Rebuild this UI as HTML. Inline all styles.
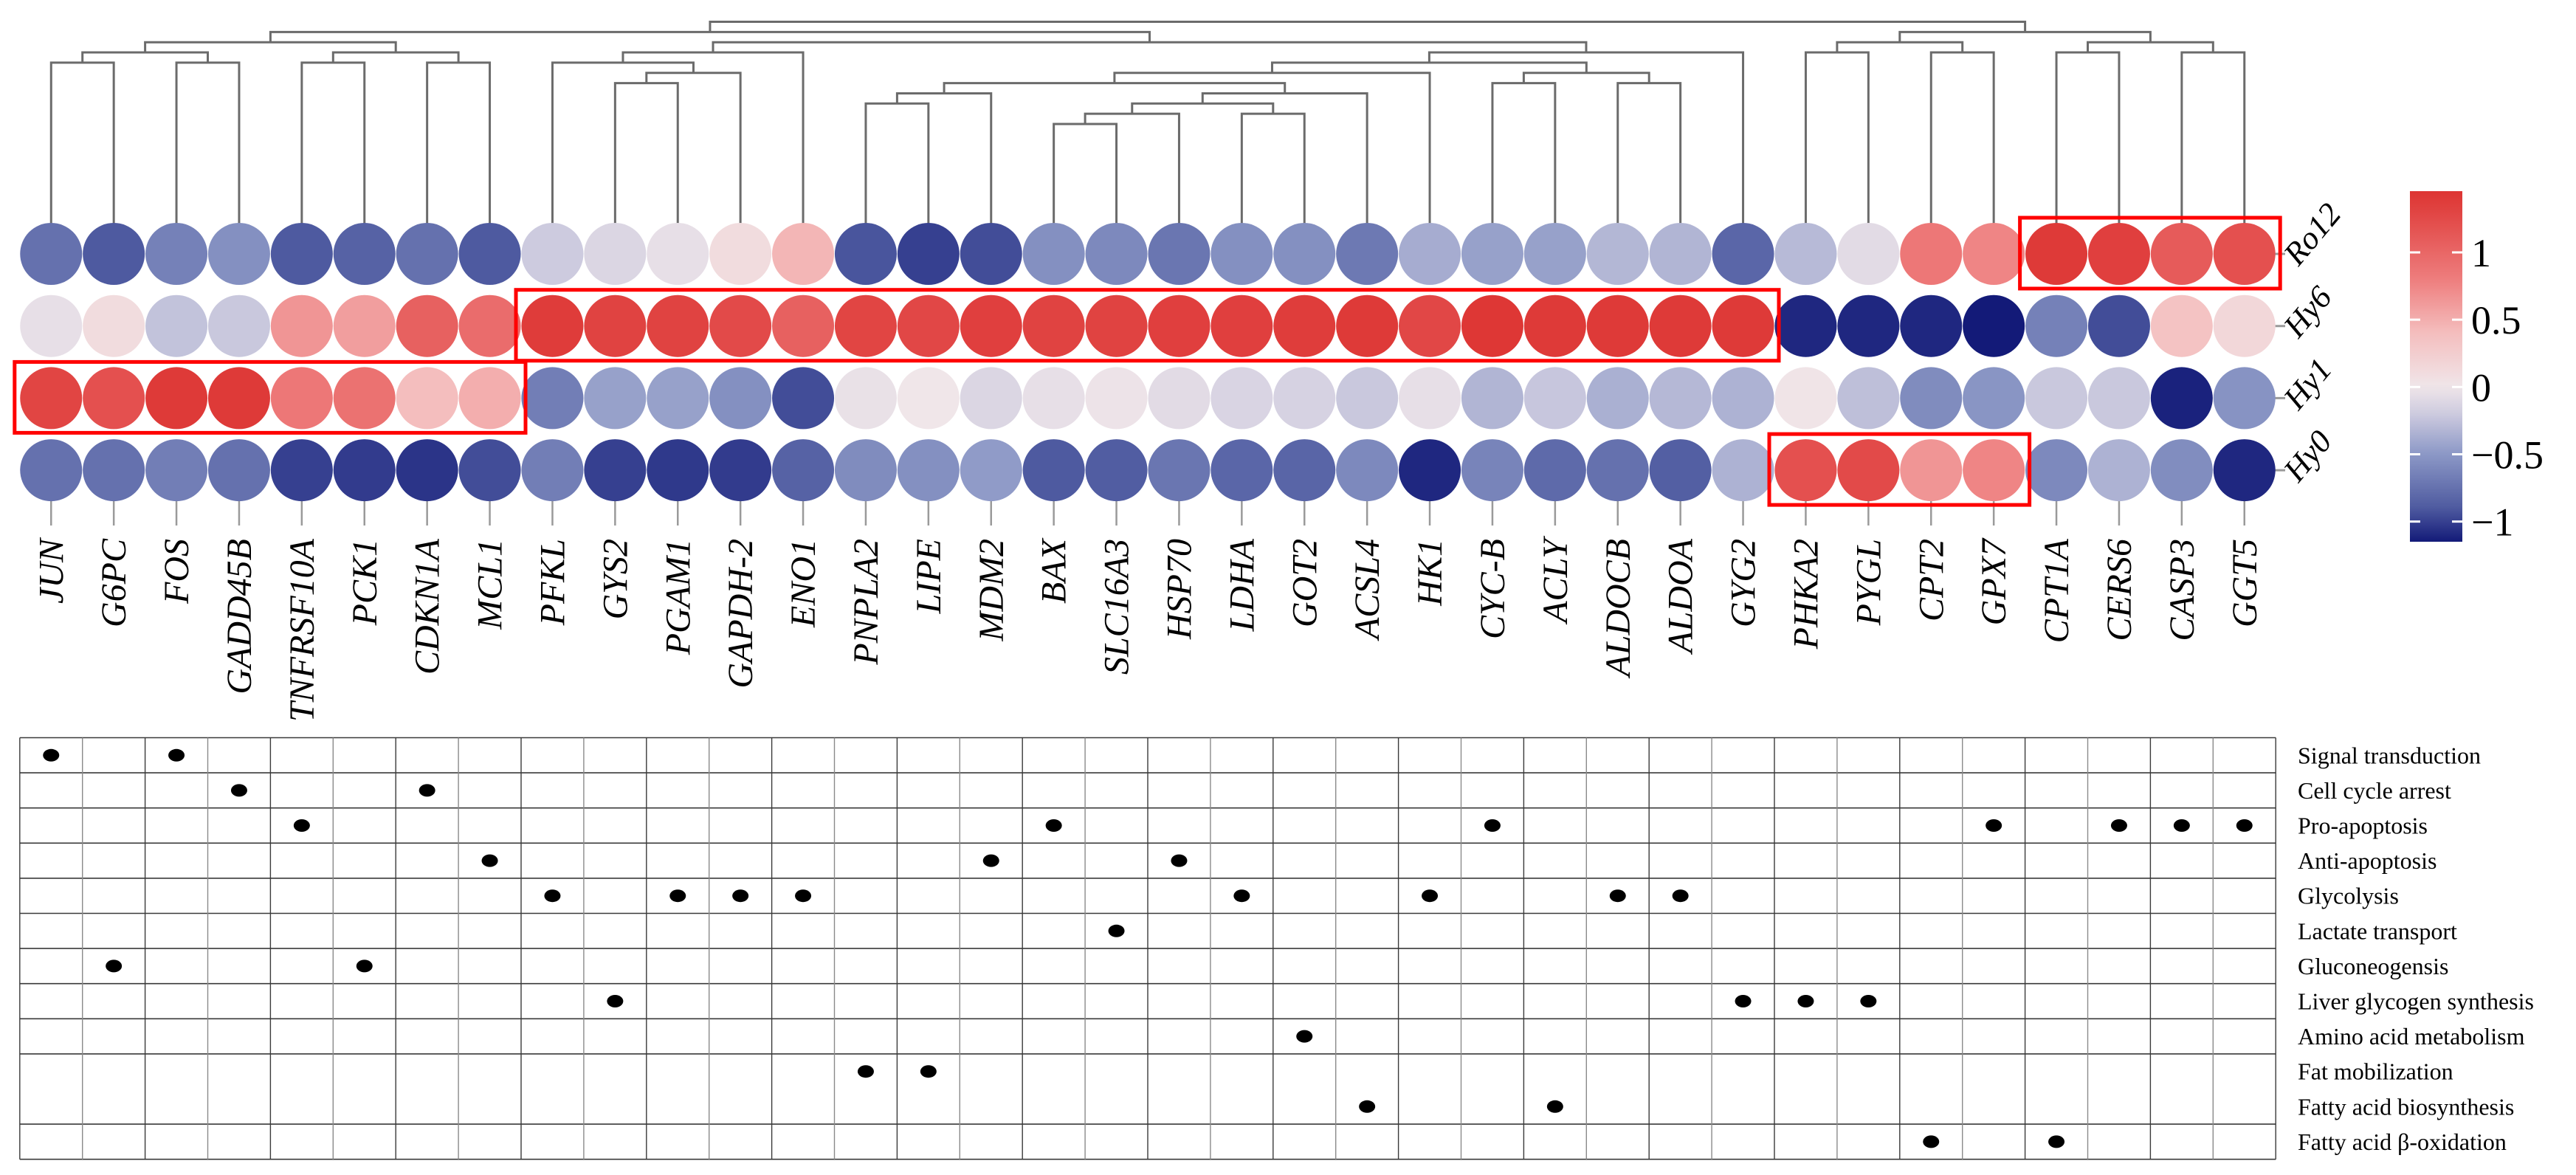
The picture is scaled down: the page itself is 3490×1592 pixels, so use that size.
<!DOCTYPE html>
<html><head><meta charset="utf-8"><style>
html,body{margin:0;padding:0;background:#fff;}
svg{display:block;}
text{font-family:"Liberation Serif",serif;fill:#000;}
</style></head><body>
<svg id="chart" width="3490" height="1592" viewBox="0 0 3490 1592" xmlns="http://www.w3.org/2000/svg">
<defs>
<linearGradient id="cbar" x1="0" y1="0" x2="0" y2="1"></linearGradient>
</defs>
<g id="dendro"></g>
<g id="ticks"></g>
<g id="cells"></g>
<g id="boxes"></g>
<g id="rowlabels"></g>
<g id="collabels"></g>
<g id="legend"></g>
<g id="matrix"></g>
</svg>
<script>
const genes = ["JUN","G6PC","FOS","GADD45B","TNFRSF10A","PCK1","CDKN1A","MCL1","PFKL","GYS2","PGAM1","GAPDH-2","ENO1","PNPLA2","LIPE","MDM2","BAX","SLC16A3","HSP70","LDHA","GOT2","ACSL4","HK1","CYC-B","ACLY","ALDOCB","ALDOA","GYG2","PHKA2","PYGL","CPT2","GPX7","CPT1A","CERS6","CASP3","GGT5"];
const samples = ["Ro12","Hy6","Hy1","Hy0"];
const valRo12 = [-0.75,-0.9,-0.65,-0.55,-0.9,-0.85,-0.75,-0.9,-0.2,-0.12,-0.05,0.1,0.45,-0.92,-1.0,-0.95,-0.55,-0.6,-0.72,-0.55,-0.55,-0.7,-0.38,-0.45,-0.45,-0.32,-0.33,-0.82,-0.3,-0.08,0.85,0.75,1.4,1.35,1.1,1.2];
const valHy6 = [-0.05,0.1,-0.25,-0.22,0.65,0.6,1.05,0.95,1.38,1.32,1.32,1.25,1.05,1.3,1.28,1.35,1.32,1.32,1.35,1.35,1.37,1.4,1.28,1.42,1.4,1.4,1.4,1.4,-1.1,-1.1,-1.1,-1.15,-0.65,-0.95,0.35,0.15];
const valHy1 = [1.3,1.2,1.4,1.4,0.85,0.9,0.4,0.5,-0.67,-0.45,-0.45,-0.55,-0.95,-0.04,0.0,-0.12,-0.05,-0.02,-0.08,-0.13,-0.15,-0.22,-0.05,-0.33,-0.23,-0.36,-0.31,-0.35,0.02,-0.27,-0.58,-0.52,-0.22,-0.22,-1.12,-0.53];
const valHy0 = [-0.75,-0.75,-0.67,-0.75,-1.0,-1.02,-1.05,-0.95,-0.67,-1.0,-1.03,-1.02,-0.85,-0.58,-0.55,-0.48,-0.9,-0.88,-0.72,-0.82,-0.83,-0.6,-1.1,-0.63,-0.8,-0.75,-0.87,-0.35,1.2,1.25,0.65,0.75,-0.6,-0.35,-0.57,-1.1];
const legendTicks = [1,0.5,0,-0.5,-1];
const legendTickLabels = ["1","0.5","0","\u22120.5","\u22121"];
// dendrogram merges: [left, right, level]; internal ids start at 36
const merges = [[0,1,4],[2,3,4],[36,37,3],[4,5,4],[6,7,4],[39,40,3],[38,41,2],[9,10,6],[43,11,5],[8,44,4],[45,12,3],[13,14,8],[47,15,7],[16,17,10],[49,18,9],[19,20,9],[50,51,8],[52,21,7],[48,53,6],[54,22,5],[23,24,6],[25,26,6],[56,57,5],[55,58,4],[59,27,3],[46,60,2],[42,61,1],[28,29,3],[30,31,3],[63,64,2],[32,33,3],[34,35,3],[66,67,2],[65,68,1],[62,69,0]];
const functions = ["Signal transduction","Cell cycle arrest","Pro-apoptosis","Anti-apoptosis","Glycolysis","Lactate transport","Gluconeogensis","Liver glycogen synthesis","Amino acid metabolism","Fat mobilization","Fatty acid biosynthesis","Fatty acid \u03b2-oxidation"];
const memberships = [[0,2],[3,6],[4,16,23,31,33,34,35],[7,15,18],[8,10,11,12,19,22,25,26],[17],[1,5],[9,27,28,29],[20],[13,14],[21,24],[30,32]];
// highlight boxes: [rowIndex, firstCol, lastCol]
const highlights = [[0,32,35],[1,8,27],[2,0,7],[3,28,31]];

const NS = "http://www.w3.org/2000/svg";
function mk(tag, attrs, parent){const e=document.createElementNS(NS,tag);for(const k in attrs)e.setAttribute(k,attrs[k]);parent.appendChild(e);return e;}
const gridL = 26.8, colW = 84.9;
const xCol = i => gridL + (i+0.5)*colW;
const rowY0 = 344, rowStep = 97.7;
const yRow = r => rowY0 + r*rowStep;
const yLevel = l => 29.5 + l*13.85;
const stops = [[-1.15,[19,26,120]],[-0.9,[78,90,160]],[-0.5,[140,152,198]],[-0.2,[205,203,223]],[0,[240,230,233]],[0.4,[244,190,190]],[0.8,[238,125,125]],[1.45,[221,52,50]]];
function color(v){
  if(v<=stops[0][0])return "rgb("+stops[0][1].join(",")+")";
  for(let i=1;i<stops.length;i++){if(v<=stops[i][0]){const a=stops[i-1],b=stops[i];const t=(v-a[0])/(b[0]-a[0]);return "rgb("+a[1].map((c,j)=>Math.round(c+(b[1][j]-c)*t)).join(",")+")";}}
  return "rgb("+stops[stops.length-1][1].join(",")+")";
}

// dendrogram
const dg = document.getElementById("dendro");
const nx = {}, ny = {};
genes.forEach((g,i)=>{nx[i]=xCol(i);ny[i]=yRow(0);});
merges.forEach((m,k)=>{
  const id=36+k, y=yLevel(m[2]);
  const a=m[0], b=m[1];
  nx[id]=(nx[a]+nx[b])/2; ny[id]=y;
  const p=mk("path",{d:`M${nx[a]},${ny[a]}V${y}H${nx[b]}V${ny[b]}`,fill:"none",stroke:"#6b6b6b","stroke-width":3},dg);
  
  
});

// ticks below
const tg=document.getElementById("ticks");
genes.forEach((g,i)=>{
  const l=mk("line",{x1:xCol(i),x2:xCol(i),y1:yRow(3),y2:712,stroke:"#9a9a9a","stroke-width":2.5},tg);
  
  
});
samples.forEach((s,r)=>{
  const l=mk("line",{x1:3078,x2:3096,y1:yRow(r),y2:yRow(r),stroke:"#9a9a9a","stroke-width":3},tg);
  
  
});

// cells
const cg=document.getElementById("cells");
const rowsVals=[valRo12,valHy6,valHy1,valHy0];
rowsVals.forEach((vals,r)=>{
  vals.forEach((v,i)=>{
    const c=mk("circle",{cx:xCol(i),cy:yRow(r),r:42,fill:color(v)},cg);
    
    
  });
});

// highlight boxes
const bg=document.getElementById("boxes");
highlights.forEach(h=>{
  const x0=gridL+h[1]*colW-7, x1=gridL+(h[2]+1)*colW+6;
  const y0=yRow(h[0])-49, y1=yRow(h[0])+47;
  const rc=mk("rect",{x:x0,y:y0,width:x1-x0,height:y1-y0,fill:"none",stroke:"#ff0000","stroke-width":5},bg);
  
  
});

// row labels
const rl=document.getElementById("rowlabels");
samples.forEach((s,r)=>{
  const t=mk("text",{x:3114,y:yRow(r)+18,transform:`rotate(-50 3114 ${yRow(r)+18})`,"font-size":44,"font-style":"italic"},rl);
  t.textContent=s;
  
  
});

// column labels
const cl=document.getElementById("collabels");
genes.forEach((g,i)=>{
  const x=xCol(i)+16, y=730;
  const t=mk("text",{x:x,y:y,transform:`rotate(-90 ${x} ${y})`,"font-size":48,"font-style":"italic","text-anchor":"end"},cl);
  t.textContent=g;
  
  
});

// legend
const lg=document.getElementById("legend");
const cbTop=259, cbBot=734, vTop=1.455, vBot=-1.15;
const yLeg = v => cbTop + (vTop-v)/(vTop-vBot)*(cbBot-cbTop);
const grad=document.getElementById("cbar");
for(let k=0;k<=40;k++){
  const v=vTop-(vTop-vBot)*k/40;
  mk("stop",{offset:(k/40),"stop-color":color(v)},grad);
}
const cb=mk("rect",{x:3265,y:cbTop,width:71,height:cbBot-cbTop,fill:"url(#cbar)"},lg);


legendTicks.forEach((v,k)=>{
  const y=yLeg(v);
  mk("line",{x1:3265,x2:3279,y1:y,y2:y,stroke:"#fff","stroke-width":3},lg);
  mk("line",{x1:3322,x2:3336,y1:y,y2:y,stroke:"#fff","stroke-width":3},lg);
  const t=mk("text",{x:3348,y:y+19,"font-size":54},lg);
  t.textContent=legendTickLabels[k];
  
  
});

// function matrix
const mg=document.getElementById("matrix");
const mTop=999.5, mRow=47.6, nCols=genes.length, nRows=functions.length;
const mRight=gridL+nCols*colW;
const yM = r => mTop + (r+0.5)*mRow;
for(let r=0;r<=nRows;r++){
  if(r===10) continue;
  const y=mTop+r*mRow;
  mk("line",{x1:gridL,x2:mRight,y1:y,y2:y,stroke:"#3a3a3a","stroke-width":1.6},mg);
}
for(let c=0;c<=nCols;c++){
  const x=gridL+c*colW;
  mk("line",{x1:x,x2:x,y1:mTop,y2:mTop+nRows*mRow,stroke:(c%2?"#8a8a8a":"#3a3a3a"),"stroke-width":1.4},mg);
}
functions.forEach((f,r)=>{
  const t=mk("text",{x:3113,y:yM(r)+11,"font-size":32},mg);
  t.textContent=f;
  
  
  memberships[r].forEach(c=>{
    const e=mk("ellipse",{cx:xCol(c),cy:yM(r),rx:11,ry:8.5,fill:"#000"},mg);
    
    
  });
});
</script>
</body></html>
